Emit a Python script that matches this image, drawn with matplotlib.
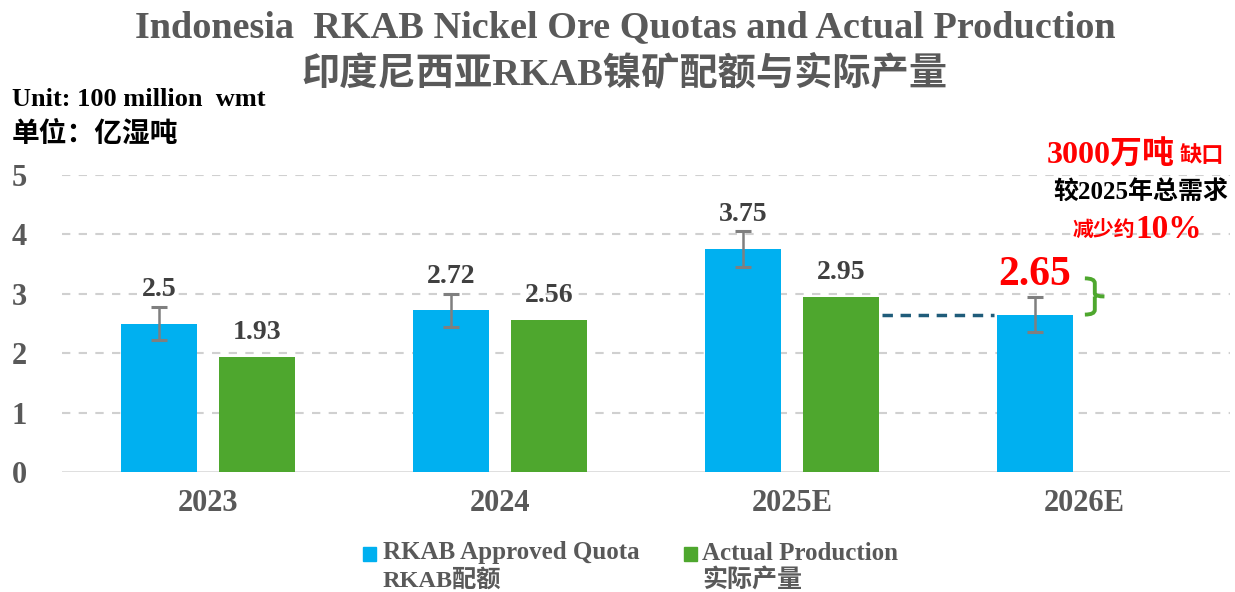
import matplotlib
matplotlib.use("Agg")
import matplotlib.pyplot as plt
from matplotlib.path import Path
from matplotlib.patches import PathPatch
import numpy as np

categories = ["2023", "2024", "2025E", "2026E"]
quota = [2.5, 2.72, 3.75, 2.65]
quota_err = [0.28, 0.28, 0.30, 0.30]
production = [1.93, 2.56, 2.95, None]
yticks = [0, 1, 2, 3, 4, 5]

FONT = ["Liberation Serif", "Noto Sans CJK SC", "DejaVu Sans"]
plt.rcParams["font.family"] = FONT
plt.rcParams["font.weight"] = "bold"

BLUE = "#00B0F0"
GREEN = "#4EA72E"
GRAY = "#595959"
RED = "#FF0000"

fig = plt.figure(figsize=(12.35, 5.92), dpi=100)
ax = fig.add_axes([62/1235, 1-472/592, 1168/1235, 297/592])

x = np.arange(len(categories))
off = 0.168
w = 0.262

ax.set_xlim(-0.5, 3.5)
ax.set_ylim(0, 5)
for yv in yticks[1:]:
    ax.axhline(yv, color="#D0D0D0", lw=1.5, ls=(0, (4, 4)), zorder=0)
ax.axhline(0, color="#D9D9D9", lw=1.2, zorder=0)

for i in range(len(categories)):
    ax.bar(x[i]-off, quota[i], w, color=BLUE, zorder=2)
    ax.errorbar(x[i]-off, quota[i], yerr=quota_err[i], color="#808080",
                elinewidth=1.8, capsize=6, capthick=2.2, ecolor="#7F7F7F", zorder=3, fmt="none")
    if production[i] is not None:
        ax.bar(x[i]+off, production[i], w, color=GREEN, zorder=2)
        ax.text(x[i]+off, production[i]+0.2, f"{production[i]:g}", ha="center", va="bottom",
                fontsize=20, color="#404040", fontweight="bold")
    if i < 3:
        ax.text(x[i]-off, quota[i]+quota_err[i]+0.08, f"{quota[i]:g}", ha="center", va="bottom",
                fontsize=20, color="#404040", fontweight="bold")
    else:
        ax.text(x[i]-off, quota[i]+0.35, f"{quota[i]:g}", ha="center", va="bottom",
                fontsize=30, color=RED, fontweight="bold")

# dashed connector
ax.plot([x[2]+off+w/2+0.01, x[3]-off-w/2-0.01], [quota[3], quota[3]], color="#1F5C7A",
        lw=2.5, ls=(0, (3, 2.2)), zorder=2)

# brace
bx0, bx1, btip = 3.003, 3.037, 3.07
top, bot, mid = 3.26, 2.65, 2.955
verts = [(bx0, top), (bx1, top), (bx1, top-0.08), (bx1, mid+0.05), (bx1, mid), (btip, mid),
         (bx1, mid), (bx1, mid-0.05), (bx1, bot+0.08), (bx1, bot), (bx0, bot)]
codes = [Path.MOVETO, Path.CURVE3, Path.CURVE3, Path.LINETO, Path.CURVE3, Path.CURVE3,
         Path.MOVETO, Path.CURVE3, Path.CURVE3, Path.CURVE3, Path.CURVE3]
ax.add_patch(PathPatch(Path(verts, codes), fill=False, edgecolor=GREEN, lw=2.8, clip_on=False, zorder=4))

ax.set_yticks(yticks)
ax.set_yticklabels([str(v) for v in yticks], fontsize=22, color=GRAY, fontweight="bold")
ax.set_xticks(x)
ax.set_xticklabels(categories, fontsize=22, color=GRAY, fontweight="bold")
ax.tick_params(axis="both", length=0)
ax.tick_params(axis="y", pad=36)
ax.tick_params(axis="x", pad=12)
for lab in ax.get_yticklabels():
    lab.set_horizontalalignment("left")
for s in ax.spines.values():
    s.set_visible(False)

# titles
fig.text(0.506, 1-28/592, "Indonesia  RKAB Nickel Ore Quotas and Actual Production", ha="center", va="center",
         fontsize=27.5, color=GRAY, fontweight="bold")
fig.text(0.506, 1-74/592, "印度尼西亚RKAB镍矿配额与实际产量", ha="center", va="center",
         fontsize=27.5, color=GRAY, fontweight="bold")
fig.text(12/1235, 1-100/592, "Unit: 100 million  wmt", ha="left", va="center", fontsize=19,
         color="black", fontweight="bold")
fig.text(12/1235, 1-135/592, "单位：亿湿吨", ha="left", va="center", fontsize=20,
         color="black", fontweight="bold")

# annotation at right
t1 = fig.text(1047/1235, 1-156/592, "3000万吨", ha="left", va="center", fontsize=23, color=RED, fontweight="bold")
ax.annotate("缺口", xy=(1, 0.12), xycoords=t1, xytext=(3, 0), textcoords="offset points",
            ha="left", va="bottom", fontsize=16, color=RED, fontweight="bold", annotation_clip=False)
fig.text(1228/1235, 1-192/592, "较2025年总需求", ha="right", va="center", fontsize=18, color="black", fontweight="bold")
t3 = fig.text(1073/1235, 1-231/592, "减少约", ha="left", va="center", fontsize=15, color=RED, fontweight="bold")
ax.annotate("10%", xy=(1, 0.5), xycoords=t3, xytext=(0, 1), textcoords="offset points",
            ha="left", va="center", fontsize=24, color=RED, fontweight="bold", annotation_clip=False)

# legend
fig.patches.append(plt.Rectangle((363/1235, 1-561/592), 13/1235, 14/592, transform=fig.transFigure,
                                 color=BLUE, figure=fig))
fig.text(383/1235, 1-553/592, "RKAB Approved Quota", ha="left", va="center", fontsize=18, color=GRAY, fontweight="bold")
fig.text(383/1235, 1-580/592, "RKAB配额", ha="left", va="center", fontsize=17.5, color=GRAY, fontweight="bold")
fig.patches.append(plt.Rectangle((684/1235, 1-561/592), 13/1235, 14/592, transform=fig.transFigure,
                                 color=GREEN, figure=fig))
fig.text(702/1235, 1-553/592, "Actual Production", ha="left", va="center", fontsize=18, color=GRAY, fontweight="bold")
fig.text(702/1235, 1-580/592, "实际产量", ha="left", va="center", fontsize=18, color=GRAY, fontweight="bold")

fig.savefig("out.png", dpi=100)
